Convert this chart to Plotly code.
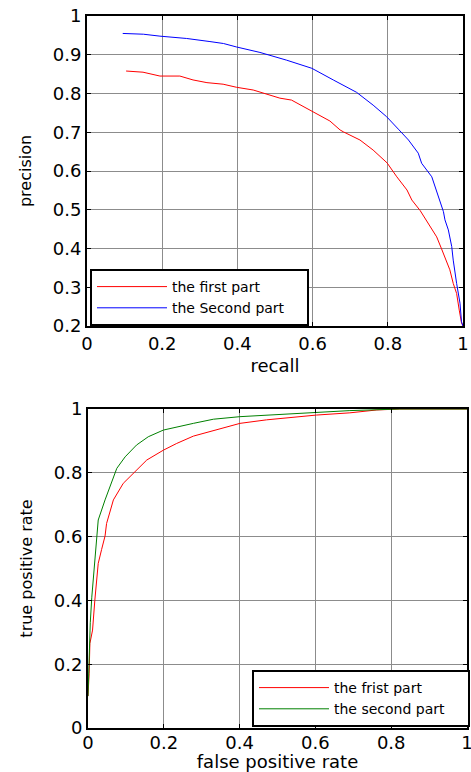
import plotly.graph_objects as go

# --- Precision-recall data (top) ---
recall_first = [0.104, 0.149, 0.194, 0.247, 0.282, 0.319, 0.362, 0.398, 0.442, 0.478, 0.513, 0.544,
                0.575, 0.602, 0.628, 0.646, 0.673, 0.682, 0.726, 0.761, 0.798, 0.824, 0.851, 0.864,
                0.886, 0.912, 0.930, 0.943, 0.957, 0.965, 0.974, 0.983, 0.990, 0.996, 1.0]
precision_first = [0.858, 0.855, 0.845, 0.845, 0.835, 0.828, 0.824, 0.816, 0.809, 0.799, 0.788, 0.783,
                   0.766, 0.753, 0.739, 0.729, 0.706, 0.701, 0.680, 0.654, 0.621, 0.585, 0.551, 0.525,
                   0.498, 0.456, 0.430, 0.399, 0.366, 0.345, 0.310, 0.284, 0.241, 0.208, 0.200]
recall_second = [0.095, 0.150, 0.194, 0.265, 0.327, 0.363, 0.398, 0.460, 0.531, 0.598, 0.655, 0.717,
                 0.761, 0.797, 0.828, 0.855, 0.881, 0.890, 0.917, 0.934, 0.948, 0.952, 0.961, 0.970,
                 0.974, 0.983, 0.987, 0.992, 0.996, 1.0]
precision_second = [0.955, 0.953, 0.948, 0.942, 0.934, 0.929, 0.920, 0.906, 0.886, 0.865, 0.835, 0.803,
                    0.770, 0.740, 0.708, 0.680, 0.646, 0.620, 0.585, 0.534, 0.495, 0.474, 0.448, 0.405,
                    0.370, 0.310, 0.284, 0.259, 0.211, 0.200]

# --- ROC data (bottom) ---
fpr_first = [0.0, 0.003, 0.005, 0.012, 0.018, 0.027, 0.036, 0.045, 0.049, 0.067, 0.093, 0.120, 0.155,
             0.199, 0.234, 0.278, 0.340, 0.401, 0.471, 0.603, 0.691, 0.762, 0.823, 1.0]
tpr_first = [0.10, 0.17, 0.265, 0.307, 0.400, 0.516, 0.560, 0.602, 0.641, 0.715, 0.767, 0.798, 0.840,
             0.871, 0.892, 0.915, 0.936, 0.955, 0.966, 0.981, 0.988, 0.997, 1.0, 1.0]
fpr_second = [0.0, 0.003, 0.006, 0.010, 0.018, 0.025, 0.027, 0.045, 0.058, 0.076, 0.098, 0.128, 0.159,
              0.199, 0.278, 0.331, 0.401, 0.515, 0.603, 0.691, 0.823, 1.0]
tpr_second = [0.10, 0.22, 0.33, 0.41, 0.517, 0.61, 0.652, 0.715, 0.757, 0.814, 0.850, 0.887, 0.913,
              0.934, 0.955, 0.968, 0.976, 0.984, 0.990, 0.995, 1.0, 1.0]

labels_top = ["the first part", "the Second part"]
labels_bottom = ["the frist part", "the second part"]

FONT = "DejaVu Sans"
W, H = 471, 772
PAD = "\u00a0" * 4  # right padding inside the legend box

fig = go.Figure()
fig.add_trace(go.Scatter(x=recall_first, y=precision_first, mode="lines", name=labels_top[0] + PAD,
                         line=dict(color="#ff0000", width=1), xaxis="x", yaxis="y", legend="legend"))
fig.add_trace(go.Scatter(x=recall_second, y=precision_second, mode="lines", name=labels_top[1] + PAD,
                         line=dict(color="#0000ff", width=1), xaxis="x", yaxis="y", legend="legend"))
fig.add_trace(go.Scatter(x=fpr_first, y=tpr_first, mode="lines", name=labels_bottom[0] + PAD,
                         line=dict(color="#ff0000", width=1), xaxis="x2", yaxis="y2", legend="legend2"))
fig.add_trace(go.Scatter(x=fpr_second, y=tpr_second, mode="lines", name=labels_bottom[1] + PAD,
                         line=dict(color="#008000", width=1), xaxis="x2", yaxis="y2", legend="legend2"))

axis_common = dict(showline=True, linecolor="black", linewidth=2, mirror="ticks",
                   ticks="inside", ticklen=4, tickcolor="black", showgrid=True,
                   gridcolor="#8c8c8c", gridwidth=1, zeroline=False, automargin=False,
                   ticklabeloverflow="allow",
                   tickfont=dict(family=FONT, size=18, color="black"))

xtitle_font = dict(family=FONT, size=18, color="black")
ytitle_font = dict(family=FONT, size=16, color="black")

top_dom_y = [(H - 326) / H, (H - 16) / H]
bot_dom_y = [(H - 728) / H, (H - 409) / H]

fig.update_layout(
    width=W, height=H,
    margin=dict(l=0, r=0, t=0, b=0, autoexpand=False),
    paper_bgcolor="white", plot_bgcolor="white",
    showlegend=True,
    xaxis=dict(axis_common, domain=[87 / W, 463 / W], range=[0, 1], dtick=0.2, anchor="y",
               title=dict(text="recall", font=xtitle_font, standoff=7)),
    yaxis=dict(axis_common, domain=top_dom_y, range=[0.2, 1], dtick=0.1, anchor="x",
               title=dict(text="precision", font=ytitle_font, standoff=17)),
    xaxis2=dict(axis_common, domain=[88 / W, 467 / W], range=[0, 1], dtick=0.2, anchor="y2",
                ticklabelstandoff=-3,
                title=dict(text="false positive rate", font=xtitle_font, standoff=8)),
    yaxis2=dict(axis_common, domain=bot_dom_y, range=[0, 1], dtick=0.2, anchor="x2",
                title=dict(text="true positive rate", font=ytitle_font, standoff=17)),
    legend=dict(x=90 / W, y=(H - 326) / H, xanchor="left", yanchor="bottom",
                bgcolor="white", bordercolor="black", borderwidth=2,
                font=dict(family=FONT, size=14, color="black"), itemwidth=70,
                tracegroupgap=0),
    legend2=dict(x=470 / W, y=(H - 727) / H, xanchor="right", yanchor="bottom",
                 bgcolor="white", bordercolor="black", borderwidth=2,
                 font=dict(family=FONT, size=14, color="black"), itemwidth=70,
                 tracegroupgap=0),
)

fig.write_html("out.html", config={"displayModeBar": False},
               post_script="document.body.style.margin='0px';")
